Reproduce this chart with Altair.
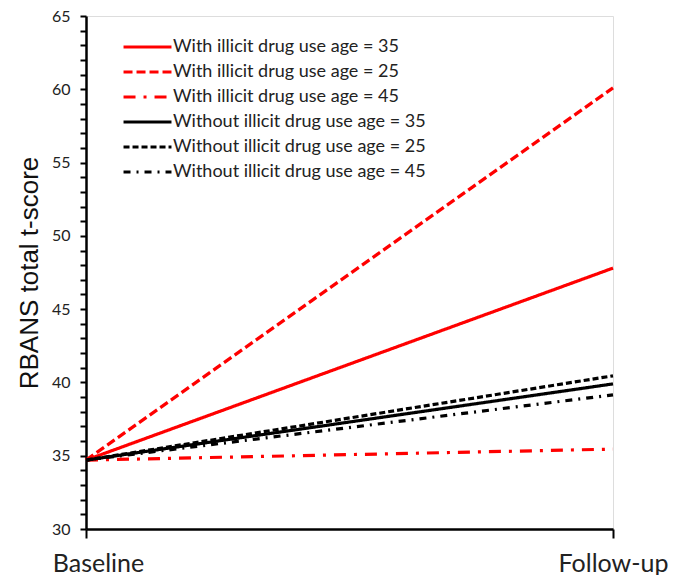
import altair as alt
import pandas as pd

series = [
    "With illicit drug use age = 35",
    "With illicit drug use age = 25",
    "With illicit drug use age = 45",
    "Without illicit drug use age = 35",
    "Without illicit drug use age = 25",
    "Without illicit drug use age = 45",
]
colors = ["#FF0000", "#FF0000", "#FF0000", "#000000", "#000000", "#000000"]
dashes = [[1, 0], [9, 4], [12, 8, 3, 8], [1, 0], [6, 3], [7, 6, 2, 6]]
widths = [3.2, 3.2, 3.2, 2.4, 2.4, 2.4]
time_labels = ["Baseline", "Follow-up"]
baseline = [34.7, 34.7, 34.7, 34.7, 34.7, 34.7]
followup = [47.8, 60.1, 35.45, 39.9, 40.45, 39.15]

rows = []
for s, b, f in zip(series, baseline, followup):
    rows.append({"series": s, "t": 0, "score": b})
    rows.append({"series": s, "t": 1, "score": f})
df = pd.DataFrame(rows)

legend = alt.Legend(
    title=None,
    orient="none",
    legendX=52.5,
    legendY=22,
    symbolType="M-5,0H5",
    symbolSize=92,
    labelFont="Lato",
    labelFontSize=18,
    labelColor="#222",
    labelOffset=16.5,
    labelLimit=400,
    rowPadding=7,
    symbolStrokeWidth=3,
)

label_expr = "datum.value == 0 ? '" + time_labels[0] + "' : '" + time_labels[1] + "'"

chart = alt.Chart(df).mark_line().encode(
    x=alt.X(
        "t:Q",
        scale=alt.Scale(domain=[0, 1], nice=False),
        axis=alt.Axis(
            title=None,
            values=[0, 1],
            labelExpr=label_expr,
            labelFont="Lato",
            labelFontSize=25,
            labelColor="#222",
            labelPadding=13,
            labelFlush=False,
            labelOffset={"condition": {"test": "datum.value == 0", "value": 12}, "value": 0},
            tickSize=9,
            tickWidth=2,
            tickColor="#000",
            domainColor="#000",
            domainWidth=2.5,
            grid=False,
        ),
    ),
    y=alt.Y(
        "score:Q",
        scale=alt.Scale(domain=[30, 65], nice=False),
        axis=alt.Axis(
            title="RBANS total t-score",
            titleFont="Liberation Sans",
            titleFontSize=26,
            titleFontWeight="normal",
            titleColor="#111",
            titlePadding=9,
            values=list(range(30, 66)),
            labelExpr="datum.value % 5 == 0 ? datum.label : ''",
            labelFont="Lato",
            labelFontSize=16,
            labelColor="#222",
            labelPadding=10,
            tickSize=6,
            tickWidth=2,
            tickColor="#000",
            domainColor="#000",
            domainWidth=2.5,
            grid=False,
        ),
    ),
    color=alt.Color("series:N", scale=alt.Scale(domain=series, range=colors), legend=legend),
    strokeDash=alt.StrokeDash("series:N", scale=alt.Scale(domain=series, range=dashes), legend=legend),
    strokeWidth=alt.StrokeWidth("series:N", scale=alt.Scale(domain=series, range=widths), legend=legend),
    order=alt.Order("series:N"),
).properties(
    width=527,
    height=513,
    padding={"left": 8, "top": 0, "right": 5, "bottom": 0},
).configure_view(stroke=None).configure(background="white")

chart.save("out.html", embed_options={"renderer": "svg", "actions": False})
